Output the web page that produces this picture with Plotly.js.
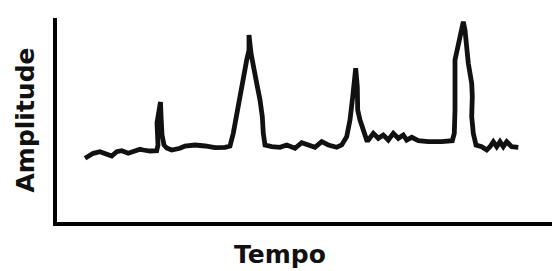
<!DOCTYPE html>
<html>
<head>
<meta charset="utf-8">
<script src="https://cdn.plot.ly/plotly-3.0.1.min.js"></script>
<style>html,body{margin:0;padding:0;background:#fff;}#chart{width:552px;height:271px;}</style>
</head>
<body>
<div id="chart"></div>
<script>
// Tempo (time) values and amplitude readings
const tempo = [28, 36.3, 43, 49.7, 54.7, 59.7, 64.7, 71.3, 78, 83, 86.3, 93, 99.7, 101, 100, 103.5, 104, 105, 107, 109.7,
  114.7, 123, 128, 138, 148, 158, 168, 173, 176.3, 179.7, 183, 186.3, 189.7, 192, 192, 194, 196.3, 199.7, 203, 205.3,
  206.3, 208, 214.7, 223, 229.7, 238, 244.7, 251.3, 258, 264.7, 271.3, 279.7, 284.7, 289.7, 293, 295.7, 297.3, 298.7,
  300.3, 300.7, 303, 306.3, 309.7, 311.3, 316.3, 321.3, 326.3, 331.3, 336.3, 341.3, 346.3, 349.7, 354.7, 361.3, 371.3,
  384.7, 395.3, 397.3, 398, 398, 400.3, 402.3, 404.7, 406.3, 408, 409.7, 411.3, 414.7, 415.3, 414.7, 416.3, 419, 424.7,
  429.7, 433, 436.3, 439.7, 443, 446.3, 449.7, 454.7, 461.3];
const amplitude = [63.7, 68.7, 70.3, 68, 66, 70.3, 71.3, 68.7, 70.3, 72.7, 72, 71, 71.3, 77, 99, 120, 107, 87, 77, 74,
  72, 73.7, 76, 77, 76, 74.3, 74.7, 76, 88.7, 108.7, 128.7, 148.7, 162, 172, 187, 168.7, 158.7, 138.7, 122, 105.3,
  88.7, 77, 75.3, 74.7, 77, 73.7, 79.3, 77, 74.7, 80.3, 77, 74.7, 77, 85.3, 102, 125.3, 142, 153.7,
  135.3, 112, 102, 92, 82, 82, 88.7, 83.7, 87, 82, 88.7, 83.7, 87, 82, 84.7, 81.3, 80.3,
  80.3, 81.3, 88.7, 112, 162, 172, 182, 195.3, 200.3, 192, 172, 158.7, 138.7, 125.3, 105.3, 88.7, 77, 75.3,
  72, 75.3, 80.3, 75.3, 80.3, 75.3, 80.3, 75.3, 74.7];
const xTitle = "Tempo";
const yTitle = "Amplitude";

const titleFont = {family: "DejaVu Sans", size: 25, weight: "bold", color: "#111"};

Plotly.newPlot("chart", [{
  x: tempo,
  y: amplitude,
  type: "scatter",
  mode: "lines",
  line: {color: "#111", width: 4.8, shape: "linear"},
  hoverinfo: "skip"
}], {
  width: 552,
  height: 271,
  margin: {l: 57, r: 0, t: 18, b: 49, pad: 0},
  paper_bgcolor: "#fff",
  plot_bgcolor: "#fff",
  showlegend: false,
  xaxis: {
    range: [0, 495], showgrid: false, zeroline: false, showticklabels: false, ticks: "",
    showline: true, linecolor: "#000", linewidth: 4
  },
  yaxis: {
    range: [0, 204], showgrid: false, zeroline: false, showticklabels: false, ticks: "",
    showline: true, linecolor: "#000", linewidth: 4,
    title: {text: yTitle, font: titleFont, standoff: 12}
  },
  annotations: [{
    text: xTitle, font: titleFont, showarrow: false,
    xref: "paper", yref: "paper", x: 0.4505, y: -0.157,
    xanchor: "center", yanchor: "middle"
  }]
}, {displayModeBar: false, staticPlot: true});
</script>
</body>
</html>
